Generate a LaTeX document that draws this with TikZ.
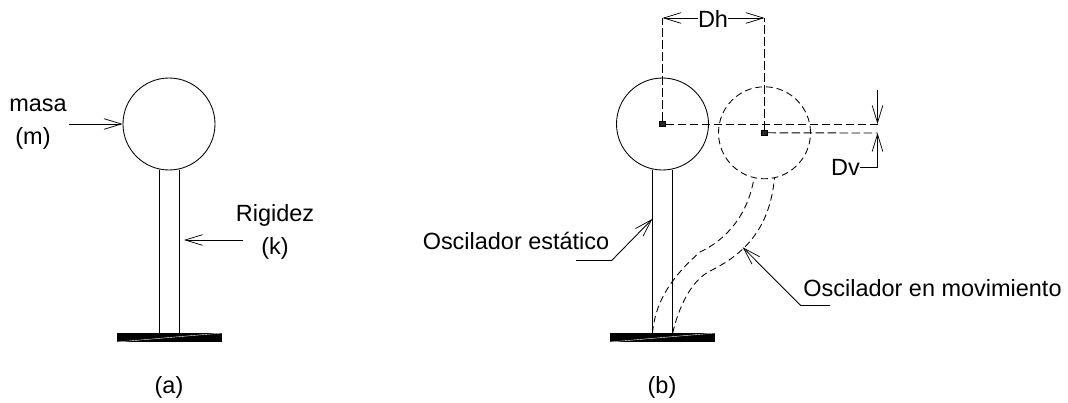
\documentclass[tikz,border=0pt]{standalone}
\usepackage{fontspec}
\setmainfont{Liberation Sans}
\usetikzlibrary{arrows.meta,shapes.misc}
\tikzset{
  ln/.style={line width=0.65pt,black},
  dsh/.style={ln,dash pattern=on 6.5pt off 2.5pt},
  dshc/.style={ln,dash pattern=on 5pt off 3pt},
  barb/.style={-{Straight Barb[length=13pt,width=8pt,line width=0.55pt]}},
  lbl/.style={inner sep=0pt,font=\fontsize{17.6}{20}\selectfont,anchor=center},
  mass/.style={circle,draw,ln,minimum size=69pt,inner sep=0pt},
  massd/.style={circle,draw,dshc,minimum size=69pt,inner sep=0pt},
  basebar/.style={fill=black,draw=none,minimum width=79pt,minimum height=7pt,inner sep=0pt,rectangle},
  ctr/.style={draw,line width=0.6pt,fill=black!85,minimum size=4pt,inner sep=0pt,rectangle}
}
\begin{document}
\begin{tikzpicture}[x=0.75pt,y=-0.75pt]
\useasboundingbox (0,0) rectangle (1068,403);
% ---- (a)
\node[mass] (ma) at (169,124) {};
\node[basebar] (ba) at (169.2,337.5) {};
\draw[white,line width=0.3pt] (117,342) -- (222,333);
\draw[ln] (159,170) -- (159,333);
\draw[ln] (179.5,170) -- (179.5,333);
\node[lbl] (tmasa) at (38,105) {masa};
\node[lbl] (tm) at (33,138) {(m)};
\node[lbl] (trig) at (275,215.5) {Rigidez};
\node[lbl] (tk) at (275,248) {(k)};
\node[lbl] (ta) at (169,387) {(a)};
\coordinate (am) at (69,124);
\coordinate (ak) at (243,240);
\coordinate (akt) at (184,240);
\draw[ln,barb] (am) -- (ma.west);
\draw[ln,barb] (ak) -- (akt);
% ---- (b)
\node[mass] (mb) at (662.5,124) {};
\node[massd] (mc) at (764.5,132.8) {};
\node[basebar] (bb) at (662.5,337.5) {};
\draw[white,line width=0.3pt] (610,342) -- (715,333);
\draw[ln] (652.4,170) -- (652.4,333);
\draw[ln] (672.7,170) -- (672.7,333);
\node[ctr] (c1) at (662.5,124) {};
\node[ctr] (c2) at (764.5,132.8) {};
% dashed curves
\draw[dshc] (652.5,333) .. controls (655,305) and (668,280) .. (700,252) .. controls (726,240) and (748,215) .. (754,178);
\draw[dshc] (672.7,333) .. controls (678,310) and (690,280) .. (712,270) .. controls (748,252) and (770,225) .. (774.5,178);
% dimension Dh
\coordinate (dl) at (662.5,18);
\coordinate (dr) at (764.5,18);
\node[lbl] (tdh) at (713,18.5) {Dh};
\draw[dsh] (c1) -- (dl);
\draw[dsh] (c2) -- (dr);
\draw[ln,barb] (tdh.west |- dl) -- (dl);
\draw[ln,barb] (tdh.east |- dr) -- (dr);
% dimension Dv
\coordinate (v1) at (877.5,124);
\coordinate (v2) at (877.5,133);
\coordinate (vt) at (877.5,90);
\coordinate (vb) at (877.5,167);
\node[lbl] (tdv) at (845.5,167) {Dv};
\draw[dsh] (c1) -- (v1);
\draw[dsh] (c2) -- (v2);
\draw[ln,barb] (vt) -- (v1);
\draw[ln,barb] (vb) -- (v2);
\draw[ln] (vb) -- (tdv.east);
% leaders
\node[lbl] (test) at (516,241) {Oscilador estático};
\node[lbl] (tmov) at (932.5,288) {Oscilador en movimiento};
\node[lbl] (tb) at (662,387) {(b)};
\coordinate (e1) at (652.3,219);
\coordinate (e2) at (611.7,260.5);
\coordinate (e3) at (576,260.5);
\coordinate (o1) at (742.7,247.3);
\coordinate (o2) at (800.7,305.5);
\coordinate (o3) at (830,305.5);
\draw[ln,barb] (e3) -- (e2) -- (e1);
\draw[ln,barb] (o3) -- (o2) -- (o1);
\end{tikzpicture}
\end{document}
